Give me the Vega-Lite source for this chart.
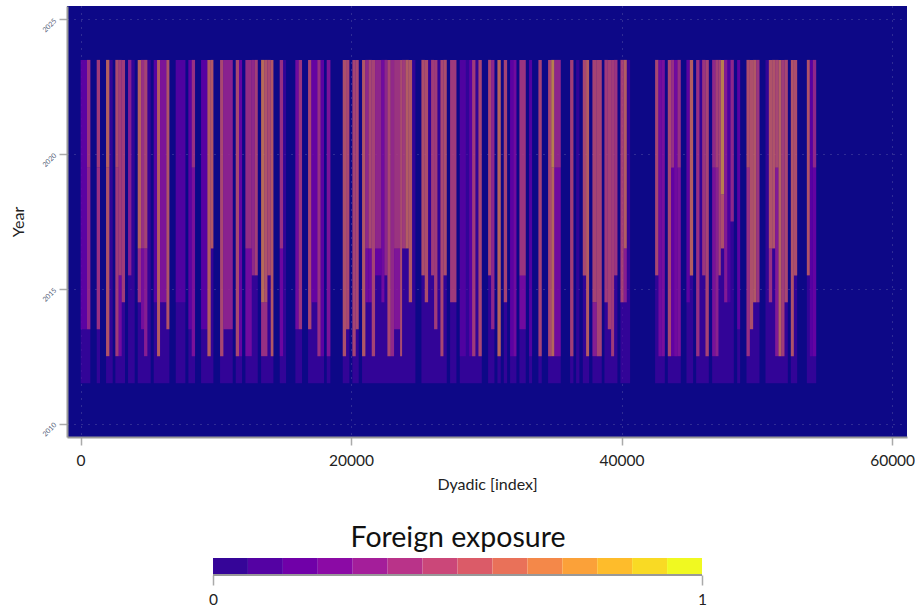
{"$schema":"https://vega.github.io/schema/vega-lite/v6.json","background":"white","padding":{"left":10,"top":6,"right":0,"bottom":0},"spacing":30,"config":{"font":"Lato","view":{"stroke":null}},"vconcat":[{"width":840,"height":431,"view":{"fill":"#0d0887","stroke":null},"data":{"values":[
{"x":12,"x2":727,"y":2011.5,"y2":2023.5,"v":0.11},{"x":1196,"x2":1442,"y":2011.5,"y2":2023.5,"v":0.11},{"x":1886,"x2":2379,"y":2011.5,"y2":2023.5,"v":0.11},{"x":2576,"x2":3291,"y":2011.5,"y2":2023.5,"v":0.11},{"x":3513,"x2":4006,"y":2011.5,"y2":2023.5,"v":0.11},{"x":4228,"x2":5189,"y":2011.5,"y2":2023.5,"v":0.11},{"x":5411,"x2":6569,"y":2011.5,"y2":2023.5,"v":0.11},{"x":7038,"x2":7752,"y":2011.5,"y2":2023.5,"v":0.11},{"x":7974,"x2":8467,"y":2011.5,"y2":2023.5,"v":0.11},{"x":8911,"x2":9823,"y":2011.5,"y2":2023.5,"v":0.11},{"x":10316,"x2":11253,"y":2011.5,"y2":2023.5,"v":0.11},{"x":11475,"x2":11943,"y":2011.5,"y2":2023.5,"v":0.11},{"x":12189,"x2":13102,"y":2011.5,"y2":2023.5,"v":0.11},{"x":13349,"x2":14260,"y":2011.5,"y2":2023.5,"v":0.11},{"x":14728,"x2":15196,"y":2011.5,"y2":2023.5,"v":0.11},{"x":15884,"x2":16377,"y":2011.5,"y2":2023.5,"v":0.11},{"x":16821,"x2":18004,"y":2011.5,"y2":2023.5,"v":0.11},{"x":18201,"x2":18472,"y":2011.5,"y2":2023.5,"v":0.11},{"x":19384,"x2":19877,"y":2011.5,"y2":2023.5,"v":0.11},{"x":20099,"x2":20567,"y":2011.5,"y2":2023.5,"v":0.11},{"x":20814,"x2":24758,"y":2011.5,"y2":2023.5,"v":0.11},{"x":25202,"x2":27075,"y":2011.5,"y2":2023.5,"v":0.11},{"x":27322,"x2":27790,"y":2011.5,"y2":2023.5,"v":0.11},{"x":28036,"x2":29663,"y":2011.5,"y2":2023.5,"v":0.11},{"x":30132,"x2":30600,"y":2011.5,"y2":2023.5,"v":0.11},{"x":30822,"x2":31068,"y":2011.5,"y2":2023.5,"v":0.11},{"x":31290,"x2":31537,"y":2011.5,"y2":2023.5,"v":0.11},{"x":31757,"x2":32225,"y":2011.5,"y2":2023.5,"v":0.11},{"x":32447,"x2":32915,"y":2011.5,"y2":2023.5,"v":0.11},{"x":33161,"x2":33383,"y":2011.5,"y2":2023.5,"v":0.11},{"x":33852,"x2":34098,"y":2011.5,"y2":2023.5,"v":0.11},{"x":34567,"x2":35503,"y":2011.5,"y2":2023.5,"v":0.11},{"x":36194,"x2":36440,"y":2011.5,"y2":2023.5,"v":0.11},{"x":36637,"x2":36884,"y":2011.5,"y2":2023.5,"v":0.11},{"x":37130,"x2":37599,"y":2011.5,"y2":2023.5,"v":0.11},{"x":37845,"x2":38535,"y":2011.5,"y2":2023.5,"v":0.11},{"x":38733,"x2":39694,"y":2011.5,"y2":2023.5,"v":0.11},{"x":39916,"x2":40630,"y":2011.5,"y2":2023.5,"v":0.11},{"x":42479,"x2":43195,"y":2011.5,"y2":2023.5,"v":0.11},{"x":43416,"x2":44377,"y":2011.5,"y2":2023.5,"v":0.11},{"x":44797,"x2":45290,"y":2011.5,"y2":2023.5,"v":0.11},{"x":45511,"x2":46448,"y":2011.5,"y2":2023.5,"v":0.11},{"x":46695,"x2":48297,"y":2011.5,"y2":2023.5,"v":0.11},{"x":48544,"x2":48765,"y":2011.5,"y2":2023.5,"v":0.11},{"x":49234,"x2":50195,"y":2011.5,"y2":2023.5,"v":0.11},{"x":50638,"x2":52291,"y":2011.5,"y2":2023.5,"v":0.11},{"x":52512,"x2":52981,"y":2011.5,"y2":2023.5,"v":0.11},{"x":53695,"x2":54386,"y":2011.5,"y2":2023.5,"v":0.11},
{"x":12,"x2":480,"y":2013.5,"y2":2023.5,"v":0.22},{"x":480,"x2":727,"y":2013.5,"y2":2019.5,"v":0.45},{"x":480,"x2":727,"y":2019.5,"y2":2023.5,"v":0.52},{"x":1196,"x2":1442,"y":2013.5,"y2":2019.5,"v":0.5},{"x":1196,"x2":1442,"y":2019.5,"y2":2023.5,"v":0.56},{"x":1886,"x2":2132,"y":2012.5,"y2":2019.5,"v":0.68},{"x":1886,"x2":2132,"y":2019.5,"y2":2023.5,"v":0.74},{"x":2576,"x2":2822,"y":2012.5,"y2":2019.5,"v":0.56},{"x":2576,"x2":2822,"y":2019.5,"y2":2023.5,"v":0.64},{"x":2822,"x2":3044,"y":2012.5,"y2":2015.5,"v":0.3},{"x":2822,"x2":3044,"y":2015.5,"y2":2023.5,"v":0.56},{"x":3044,"x2":3291,"y":2014.5,"y2":2023.5,"v":0.56},{"x":3513,"x2":3759,"y":2015.5,"y2":2023.5,"v":0.4},{"x":4228,"x2":4474,"y":2014.5,"y2":2016.5,"v":0.5},{"x":4228,"x2":4474,"y":2016.5,"y2":2023.5,"v":0.74},{"x":4474,"x2":4696,"y":2013.5,"y2":2016.5,"v":0.32},{"x":4474,"x2":4696,"y":2016.5,"y2":2023.5,"v":0.5},{"x":4696,"x2":4942,"y":2012.5,"y2":2016.5,"v":0.4},{"x":4696,"x2":4942,"y":2016.5,"y2":2023.5,"v":0.6},{"x":5411,"x2":5657,"y":2014.5,"y2":2023.5,"v":0.2},{"x":5657,"x2":5879,"y":2012.5,"y2":2023.5,"v":0.72},{"x":5879,"x2":6347,"y":2014.5,"y2":2023.5,"v":0.35},{"x":6347,"x2":6569,"y":2013.5,"y2":2023.5,"v":0.68},{"x":7038,"x2":7752,"y":2014.5,"y2":2023.5,"v":0.17},{"x":7974,"x2":8220,"y":2013.5,"y2":2023.5,"v":0.22},{"x":8220,"x2":8467,"y":2012.5,"y2":2019.5,"v":0.34},{"x":8220,"x2":8467,"y":2019.5,"y2":2023.5,"v":0.5},{"x":8911,"x2":9379,"y":2013.5,"y2":2023.5,"v":0.2},{"x":9379,"x2":9626,"y":2012.5,"y2":2023.5,"v":0.72},{"x":9626,"x2":9823,"y":2016.5,"y2":2023.5,"v":0.7},{"x":10316,"x2":10562,"y":2012.5,"y2":2023.5,"v":0.62},{"x":10562,"x2":11253,"y":2013.5,"y2":2023.5,"v":0.42},{"x":11475,"x2":11721,"y":2012.5,"y2":2023.5,"v":0.62},{"x":11721,"x2":11943,"y":2012.5,"y2":2023.5,"v":0.25},{"x":12189,"x2":12658,"y":2012.5,"y2":2016.5,"v":0.3},{"x":12189,"x2":12658,"y":2016.5,"y2":2023.5,"v":0.48},{"x":12658,"x2":12880,"y":2015.5,"y2":2023.5,"v":0.45},{"x":12880,"x2":13102,"y":2015.5,"y2":2023.5,"v":0.58},{"x":13349,"x2":13817,"y":2012.5,"y2":2014.5,"v":0.5},{"x":13349,"x2":13580,"y":2014.5,"y2":2023.5,"v":0.78},{"x":13580,"x2":13817,"y":2014.5,"y2":2023.5,"v":0.68},{"x":13817,"x2":14063,"y":2015.5,"y2":2023.5,"v":0.62},{"x":14063,"x2":14260,"y":2012.5,"y2":2023.5,"v":0.7},{"x":14728,"x2":14974,"y":2012.5,"y2":2016.5,"v":0.28},{"x":14728,"x2":14974,"y":2016.5,"y2":2023.5,"v":0.5},
{"x":15884,"x2":16130,"y":2013.5,"y2":2023.5,"v":0.3},{"x":16130,"x2":16377,"y":2013.5,"y2":2023.5,"v":0.52},{"x":16821,"x2":17067,"y":2013.5,"y2":2023.5,"v":0.62},{"x":17067,"x2":17511,"y":2014.5,"y2":2023.5,"v":0.25},{"x":17511,"x2":17757,"y":2012.5,"y2":2023.5,"v":0.5},{"x":17757,"x2":18004,"y":2012.5,"y2":2023.5,"v":0.22},{"x":18201,"x2":18472,"y":2012.5,"y2":2023.5,"v":0.35},{"x":19384,"x2":19631,"y":2012.5,"y2":2023.5,"v":0.66},{"x":19631,"x2":19877,"y":2013.5,"y2":2023.5,"v":0.62},{"x":20099,"x2":20346,"y":2012.5,"y2":2023.5,"v":0.6},{"x":20346,"x2":20567,"y":2013.5,"y2":2023.5,"v":0.62},{"x":20814,"x2":21060,"y":2012.5,"y2":2023.5,"v":0.7},{"x":21060,"x2":21290,"y":2014.5,"y2":2016.5,"v":0.3},{"x":21060,"x2":21290,"y":2016.5,"y2":2023.5,"v":0.45},{"x":21290,"x2":21529,"y":2014.5,"y2":2016.5,"v":0.3},{"x":21290,"x2":21529,"y":2016.5,"y2":2023.5,"v":0.62},{"x":21529,"x2":21775,"y":2012.5,"y2":2023.5,"v":0.6},{"x":21775,"x2":22244,"y":2015.5,"y2":2016.5,"v":0.25},{"x":21775,"x2":22244,"y":2016.5,"y2":2023.5,"v":0.44},{"x":22244,"x2":22465,"y":2014.5,"y2":2023.5,"v":0.3},{"x":22465,"x2":22687,"y":2015.5,"y2":2023.5,"v":0.44},{"x":22687,"x2":22934,"y":2012.5,"y2":2023.5,"v":0.62},{"x":22934,"x2":23180,"y":2012.5,"y2":2023.5,"v":0.46},{"x":23180,"x2":23624,"y":2013.5,"y2":2016.5,"v":0.36},{"x":23180,"x2":23624,"y":2016.5,"y2":2023.5,"v":0.52},{"x":23624,"x2":23772,"y":2012.5,"y2":2023.5,"v":0.64},{"x":23772,"x2":24020,"y":2016.5,"y2":2023.5,"v":0.55},{"x":24020,"x2":24265,"y":2016.5,"y2":2023.5,"v":0.72},{"x":24265,"x2":24511,"y":2014.5,"y2":2023.5,"v":0.7},{"x":25202,"x2":25448,"y":2015.5,"y2":2023.5,"v":0.65},{"x":25448,"x2":25695,"y":2014.5,"y2":2023.5,"v":0.65},{"x":25916,"x2":26138,"y":2015.5,"y2":2023.5,"v":0.56},{"x":26138,"x2":26385,"y":2013.5,"y2":2023.5,"v":0.56},{"x":26607,"x2":26829,"y":2012.5,"y2":2023.5,"v":0.62},{"x":26829,"x2":27075,"y":2015.5,"y2":2023.5,"v":0.65},{"x":27322,"x2":27790,"y":2014.5,"y2":2023.5,"v":0.55},{"x":28036,"x2":28480,"y":2012.5,"y2":2023.5,"v":0.17},{"x":28727,"x2":28948,"y":2012.5,"y2":2023.5,"v":0.2},{"x":28948,"x2":29195,"y":2012.5,"y2":2023.5,"v":0.55},{"x":29417,"x2":29663,"y":2012.5,"y2":2023.5,"v":0.62},{"x":30132,"x2":30353,"y":2015.5,"y2":2023.5,"v":0.62},{"x":30353,"x2":30600,"y":2013.5,"y2":2023.5,"v":0.45},{"x":30822,"x2":31068,"y":2012.5,"y2":2023.5,"v":0.76},{"x":31290,"x2":31537,"y":2014.5,"y2":2023.5,"v":0.6},
{"x":31757,"x2":32003,"y":2012.5,"y2":2023.5,"v":0.22},{"x":32003,"x2":32225,"y":2012.5,"y2":2023.5,"v":0.3},{"x":32447,"x2":32915,"y":2013.5,"y2":2015.5,"v":0.3},{"x":32447,"x2":32915,"y":2015.5,"y2":2023.5,"v":0.52},{"x":33161,"x2":33383,"y":2012.5,"y2":2023.5,"v":0.18},{"x":33852,"x2":34098,"y":2012.5,"y2":2023.5,"v":0.6},{"x":34567,"x2":34800,"y":2012.5,"y2":2023.5,"v":0.62},{"x":34800,"x2":35035,"y":2012.5,"y2":2019.5,"v":0.76},{"x":34800,"x2":35035,"y":2019.5,"y2":2023.5,"v":0.86},{"x":35035,"x2":35503,"y":2012.5,"y2":2019.5,"v":0.3},{"x":35035,"x2":35503,"y":2019.5,"y2":2023.5,"v":0.44},{"x":36194,"x2":36440,"y":2012.5,"y2":2023.5,"v":0.58},{"x":37130,"x2":37377,"y":2015.5,"y2":2023.5,"v":0.62},{"x":37377,"x2":37599,"y":2012.5,"y2":2023.5,"v":0.72},{"x":37845,"x2":38166,"y":2012.5,"y2":2014.5,"v":0.4},{"x":37845,"x2":38166,"y":2014.5,"y2":2023.5,"v":0.6},{"x":38166,"x2":38535,"y":2012.5,"y2":2023.5,"v":0.6},{"x":38733,"x2":38979,"y":2014.5,"y2":2023.5,"v":0.55},{"x":38979,"x2":39225,"y":2013.5,"y2":2023.5,"v":0.58},{"x":39225,"x2":39447,"y":2012.5,"y2":2023.5,"v":0.56},{"x":39447,"x2":39694,"y":2015.5,"y2":2023.5,"v":0.52},{"x":39916,"x2":40162,"y":2014.5,"y2":2023.5,"v":0.58},{"x":40162,"x2":40384,"y":2014.5,"y2":2016.5,"v":0.4},{"x":40162,"x2":40384,"y":2016.5,"y2":2023.5,"v":0.72},
{"x":42479,"x2":42726,"y":2015.5,"y2":2023.5,"v":0.62},{"x":42726,"x2":42972,"y":2012.5,"y2":2023.5,"v":0.3},{"x":42972,"x2":43195,"y":2012.5,"y2":2023.5,"v":0.33},{"x":43416,"x2":43663,"y":2012.5,"y2":2023.5,"v":0.62},{"x":43663,"x2":43885,"y":2012.5,"y2":2019.5,"v":0.24},{"x":43663,"x2":43885,"y":2019.5,"y2":2023.5,"v":0.5},{"x":43885,"x2":44131,"y":2012.5,"y2":2023.5,"v":0.3},{"x":44131,"x2":44377,"y":2012.5,"y2":2019.5,"v":0.34},{"x":44131,"x2":44377,"y":2019.5,"y2":2023.5,"v":0.5},{"x":44797,"x2":45043,"y":2014.5,"y2":2023.5,"v":0.22},{"x":45043,"x2":45290,"y":2015.5,"y2":2023.5,"v":0.72},{"x":45511,"x2":45758,"y":2012.5,"y2":2023.5,"v":0.5},{"x":45955,"x2":46201,"y":2015.5,"y2":2023.5,"v":0.52},{"x":46201,"x2":46448,"y":2012.5,"y2":2023.5,"v":0.6},{"x":46695,"x2":46930,"y":2012.5,"y2":2019.5,"v":0.34},{"x":46695,"x2":46930,"y":2019.5,"y2":2023.5,"v":0.46},{"x":46930,"x2":47163,"y":2012.5,"y2":2019.5,"v":0.42},{"x":46930,"x2":47163,"y":2019.5,"y2":2023.5,"v":0.58},{"x":47163,"x2":47335,"y":2015.5,"y2":2023.5,"v":0.6},{"x":47335,"x2":47582,"y":2016.5,"y2":2018.5,"v":0.66},{"x":47335,"x2":47582,"y":2018.5,"y2":2023.5,"v":0.86},{"x":47582,"x2":47829,"y":2014.5,"y2":2023.5,"v":0.38},{"x":47829,"x2":48051,"y":2014.5,"y2":2023.5,"v":0.15},{"x":48051,"x2":48297,"y":2017.5,"y2":2023.5,"v":0.45},{"x":48544,"x2":48765,"y":2013.5,"y2":2023.5,"v":0.22},{"x":49234,"x2":49480,"y":2012.5,"y2":2019.5,"v":0.5},{"x":49234,"x2":49480,"y":2019.5,"y2":2023.5,"v":0.66},{"x":49480,"x2":49726,"y":2013.5,"y2":2023.5,"v":0.66},{"x":49726,"x2":49960,"y":2014.5,"y2":2023.5,"v":0.7},{"x":49960,"x2":50195,"y":2014.5,"y2":2023.5,"v":0.52},{"x":50885,"x2":51131,"y":2014.5,"y2":2016.5,"v":0.5},{"x":50885,"x2":51131,"y":2016.5,"y2":2023.5,"v":0.68},{"x":51131,"x2":51353,"y":2016.5,"y2":2023.5,"v":0.68},{"x":51353,"x2":51600,"y":2012.5,"y2":2019.5,"v":0.38},{"x":51353,"x2":51600,"y":2019.5,"y2":2023.5,"v":0.62},{"x":51600,"x2":51820,"y":2012.5,"y2":2023.5,"v":0.74},{"x":51820,"x2":52043,"y":2012.5,"y2":2023.5,"v":0.56},{"x":52043,"x2":52291,"y":2014.5,"y2":2023.5,"v":0.62},{"x":52512,"x2":52734,"y":2012.5,"y2":2023.5,"v":0.68},{"x":52734,"x2":52981,"y":2015.5,"y2":2023.5,"v":0.65},{"x":53695,"x2":53917,"y":2015.5,"y2":2023.5,"v":0.68},{"x":53917,"x2":54139,"y":2012.5,"y2":2023.5,"v":0.2},{"x":54139,"x2":54386,"y":2012.5,"y2":2019.5,"v":0.25},{"x":54139,"x2":54386,"y":2019.5,"y2":2023.5,"v":0.45}
]},"mark":{"type":"rect","opacity":0.66},"encoding":{"x":{"field":"x","type":"quantitative","scale":{"domain":[-1000,61100],"nice":false,"zero":false},"axis":{"values":[0,20000,40000,60000],"title":"Dyadic [index]","format":"d","titleFontSize":16,"titleFontWeight":"normal","titleColor":"#222","titlePadding":8,"labelFontSize":15.5,"labelColor":"#222","labelPadding":8,"tickColor":"#aaa","tickWidth":1.5,"tickSize":8,"domainColor":"#999","domainWidth":2,"gridColor":"#9a9ac0","gridOpacity":0.5,"gridDash":[1,6],"gridWidth":1}},"x2":{"field":"x2"},"y":{"field":"y","type":"quantitative","scale":{"domain":[2009.5,2025.5],"nice":false,"zero":false},"axis":{"values":[2010,2015,2020,2025],"title":"Year","format":"d","titleFontSize":16,"titleFontWeight":"normal","titleColor":"#222","titlePadding":14,"labelFontSize":7,"labelAngle":-45,"labelColor":"#55627a","labelPadding":4,"tickColor":"#aaa","tickWidth":1.5,"tickSize":8,"domainColor":"#999","domainWidth":2,"gridColor":"#9a9ac0","gridOpacity":0.5,"gridDash":[1,6],"gridWidth":1}},"y2":{"field":"y2"},"color":{"field":"v","type":"quantitative","scale":{"scheme":"plasma","domain":[0,1]},"legend":null}}},
{"width":840,"height":17,"title":{"text":"Foreign exposure","fontSize":28.5,"fontWeight":"normal","color":"#111","dx":-29,"offset":6},"layer":[{"data":{"values":[{"a":0,"b":0.0714,"v":0.0714},{"a":0.0714,"b":0.1429,"v":0.1429},{"a":0.1429,"b":0.2143,"v":0.2143},{"a":0.2143,"b":0.2857,"v":0.2857},{"a":0.2857,"b":0.3571,"v":0.3571},{"a":0.3571,"b":0.4286,"v":0.4286},{"a":0.4286,"b":0.5,"v":0.5},{"a":0.5,"b":0.5714,"v":0.5714},{"a":0.5714,"b":0.6429,"v":0.6429},{"a":0.6429,"b":0.7143,"v":0.7143},{"a":0.7143,"b":0.7857,"v":0.7857},{"a":0.7857,"b":0.8571,"v":0.8571},{"a":0.8571,"b":0.9286,"v":0.9286},{"a":0.9286,"b":1,"v":1}]},"mark":{"type":"rect"},"encoding":{"x":{"field":"a","type":"quantitative","scale":{"domain":[-0.2986,1.4192],"nice":false,"zero":false},"axis":{"values":[0,1],"format":"d","title":null,"grid":false,"domain":false,"labelFontSize":15.5,"labelColor":"#222","labelPadding":7,"tickColor":"#aaa","tickWidth":1.5,"tickSize":10}},"x2":{"field":"b"},"color":{"field":"v","type":"quantitative","scale":{"scheme":"plasma","domain":[0,1]},"legend":null}}},{"data":{"values":[{"a":0,"b":1,"y":0}]},"mark":{"type":"rule","color":"#999","strokeWidth":2},"encoding":{"x":{"field":"a","type":"quantitative"},"x2":{"field":"b"},"y":{"field":"y","type":"quantitative","scale":{"domain":[0,1]},"axis":null}}}]}
]}
